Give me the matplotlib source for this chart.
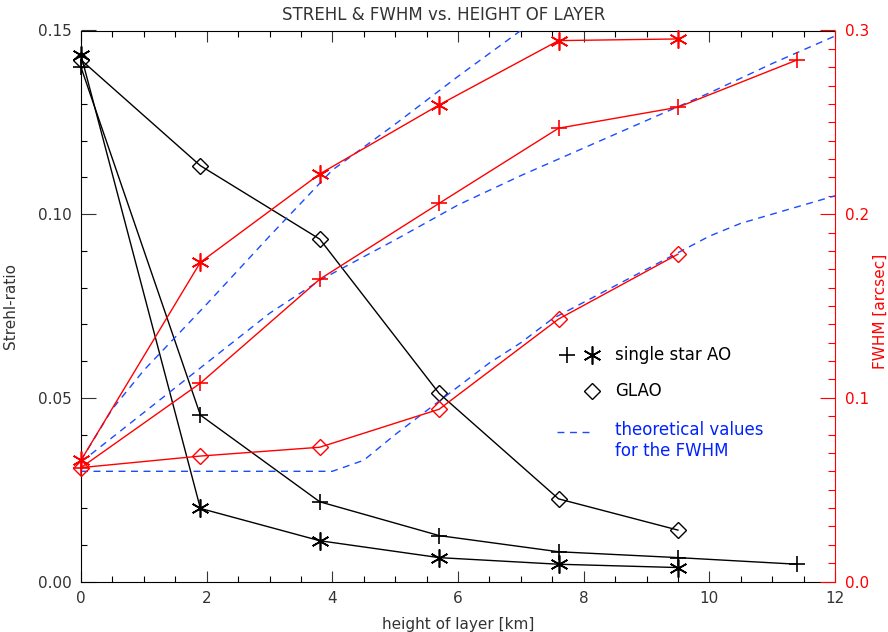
import matplotlib
matplotlib.use('Agg')
import matplotlib.pyplot as plt
from matplotlib.ticker import MultipleLocator

# height of layer [km]
h = [0, 1.9, 3.8, 5.7, 7.6, 9.5, 11.4]

# Strehl ratio (left axis)
strehl_ss_plus = [0.140, 0.0453, 0.0217, 0.0125, 0.0081, 0.0065, 0.0047]
strehl_ss_star = [0.1433, 0.0199, 0.0111, 0.0065, 0.0047, 0.0038]
strehl_glao = [0.142, 0.1132, 0.0932, 0.0512, 0.0225, 0.0140]

# FWHM [arcsec] (right axis)
fwhm_ss_plus = [0.062, 0.108, 0.1646, 0.2059, 0.2468, 0.2582, 0.284]
fwhm_ss_star = [0.066, 0.1738, 0.2219, 0.2595, 0.2945, 0.2954]
fwhm_glao = [0.062, 0.0683, 0.0731, 0.0938, 0.1429, 0.1782]

# theoretical FWHM values
th1_h = [0, 0.5, 1, 2, 3, 4, 5, 6, 7, 8]
th1 = [0.066, 0.094, 0.115, 0.151, 0.188, 0.224, 0.249, 0.275, 0.300, 0.323]
th2_h = [0, 1, 2, 3, 3.8, 5, 6, 7, 8, 9, 10, 11, 12]
th2 = [0.065, 0.092, 0.119, 0.146, 0.164, 0.186, 0.205, 0.221, 0.236, 0.251, 0.266, 0.282, 0.297]
th3_h = [0, 4, 4.5, 5, 5.5, 6, 6.5, 7, 7.5, 8, 8.5, 9, 9.5, 10, 10.5, 11, 11.5, 12]
th3 = [0.060, 0.060, 0.066, 0.080, 0.093, 0.106, 0.119, 0.130, 0.143, 0.152,
       0.161, 0.170, 0.179, 0.188, 0.195, 0.200, 0.205, 0.210]

RED = '#ff0000'
BLUE = '#1a4cff'
ASTER = (6, 2, 0)

plt.rcParams['font.family'] = ['DejaVu Sans']
fig = plt.figure(figsize=(8.88, 6.32), dpi=100)
ax = fig.add_axes([81 / 888, 1 - 581.5 / 632, 754 / 888, 551 / 632])
ax2 = ax.twinx()

# Strehl curves
ax.plot(h, strehl_ss_plus, color='k', lw=1.0, marker='+', ms=12, mew=1.2, clip_on=False)
ax.plot(h[:6], strehl_ss_star, color='k', lw=1.0, marker=ASTER, ms=13, mew=1.2, clip_on=False)
ax.plot(h[:6], strehl_glao, color='k', lw=1.0, marker='D', ms=8, mfc='none', mew=1.0, clip_on=False)

# FWHM curves
ax2.plot(th1_h, th1, color=BLUE, lw=1.0, dashes=(5, 4))
ax2.plot(th2_h, th2, color=BLUE, lw=1.0, dashes=(5, 4))
ax2.plot(th3_h, th3, color=BLUE, lw=1.0, dashes=(5, 4))
ax2.plot(h, fwhm_ss_plus, color=RED, lw=1.0, marker='+', ms=12, mew=1.2, clip_on=False)
ax2.plot(h[:6], fwhm_ss_star, color=RED, lw=1.0, marker=ASTER, ms=13, mew=1.2, clip_on=False)
ax2.plot(h[:6], fwhm_glao, color=RED, lw=1.0, marker='D', ms=8, mfc='none', mew=1.0, clip_on=False)

ax.set_xlim(0, 12)
ax.set_ylim(0, 0.15)
ax2.set_ylim(0, 0.3)

ax.xaxis.set_major_locator(MultipleLocator(2))
ax.xaxis.set_minor_locator(MultipleLocator(0.5))
ax.yaxis.set_major_locator(MultipleLocator(0.05))
ax.yaxis.set_minor_locator(MultipleLocator(0.01))
ax2.yaxis.set_major_locator(MultipleLocator(0.1))
ax2.yaxis.set_minor_locator(MultipleLocator(0.01))

ax.xaxis.set_major_formatter(plt.FuncFormatter(lambda v, p: '%d' % v))
ax.yaxis.set_major_formatter(plt.FuncFormatter(lambda v, p: '%.2f' % v))
ax2.yaxis.set_major_formatter(plt.FuncFormatter(lambda v, p: '%.1f' % v))

ax.tick_params(axis='x', which='major', direction='in', length=8, width=0.8,
               top=True, bottom=True, labelsize=11, pad=7, colors='#333333')
ax.tick_params(axis='x', which='minor', direction='in', length=4, width=0.8, top=True, bottom=True)
ax.tick_params(axis='y', which='major', direction='in', length=11, width=0.8,
               labelsize=11, pad=7, colors='#333333', right=False)
ax.tick_params(axis='y', which='minor', direction='in', length=4.5, width=0.8, right=False)
ax2.tick_params(axis='y', which='major', direction='in', length=11, width=0.8,
                labelsize=11, pad=7, colors=RED)
ax2.tick_params(axis='y', which='minor', direction='in', length=5, width=0.8, colors=RED)

for s in ['left', 'bottom', 'top']:
    ax.spines[s].set_linewidth(0.8)
ax.spines['right'].set_visible(False)
ax2.spines['right'].set_color(RED)
ax2.spines['right'].set_linewidth(0.8)
for s in ['left', 'bottom', 'top']:
    ax2.spines[s].set_visible(False)

ax.set_xlabel('height of layer [km]', fontsize=11, color='#333333', labelpad=8)
ax.set_ylabel('Strehl-ratio', fontsize=11, color='#333333')
ax.yaxis.set_label_coords(-0.084, 0.50)
ax2.set_ylabel('FWHM [arcsec]', fontsize=11, color=RED)
ax2.yaxis.set_label_coords(1.050, 0.49)
fig.text(0.5, 1 - 15 / 632, 'STREHL & FWHM vs. HEIGHT OF LAYER', ha='center', va='center',
         fontsize=12, color='#333333')

# legend
tr = ax.transAxes
ax.plot([0.6446], [0.411], marker='+', color='k', ms=12, mew=1.2, transform=tr)
ax.plot([0.678], [0.411], marker=ASTER, color='k', ms=13, mew=1.2, transform=tr)
ax.text(0.708, 0.411, 'single star AO', transform=tr, va='center', fontsize=12)
ax.plot([0.678], [0.3457], marker='D', color='k', ms=8, mfc='none', mew=1.0, transform=tr)
ax.text(0.708, 0.3457, 'GLAO', transform=tr, va='center', fontsize=12)
ax.plot([0.631, 0.679], [0.2713, 0.2713], color=BLUE, lw=1.0, dashes=(5, 4), transform=tr)
ax.text(0.708, 0.275, 'theoretical values', transform=tr, va='center', fontsize=12, color='#0022ff')
ax.text(0.708, 0.2368, 'for the FWHM', transform=tr, va='center', fontsize=12, color='#0022ff')

fig.savefig('out.png', dpi=100)
